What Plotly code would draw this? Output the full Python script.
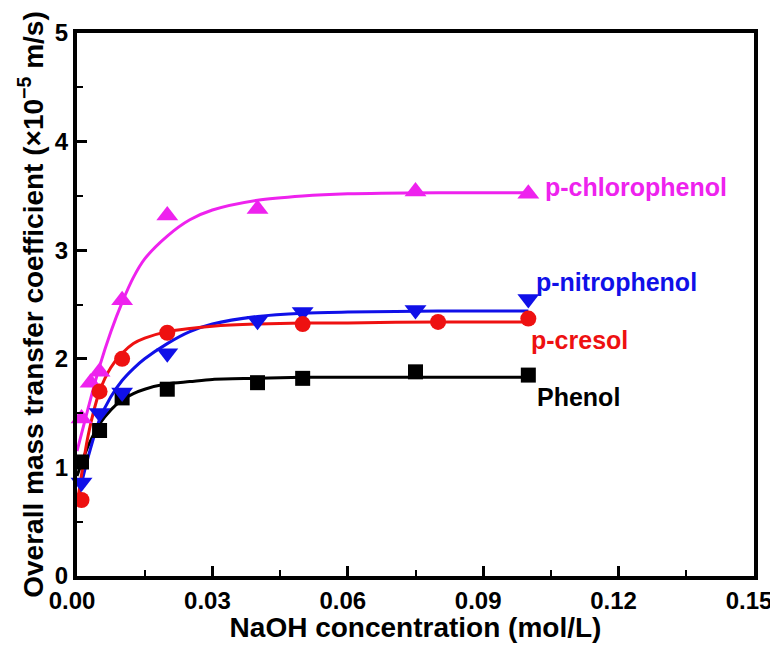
import plotly.graph_objects as go

# ---- measured points ----
phenol_x = [0.001, 0.005, 0.01, 0.02, 0.04, 0.05, 0.075, 0.1]
phenol_y = [1.05, 1.34, 1.64, 1.72, 1.78, 1.82, 1.88, 1.85]

cresol_x = [0.001, 0.005, 0.01, 0.02, 0.05, 0.08, 0.1]
cresol_y = [0.70, 1.70, 2.00, 2.24, 2.32, 2.34, 2.37]

nitro_x = [0.001, 0.005, 0.01, 0.02, 0.04, 0.05, 0.075, 0.1]
nitro_y = [0.86, 1.50, 1.69, 2.05, 2.35, 2.43, 2.45, 2.55]

chloro_x = [0.001, 0.003, 0.005, 0.01, 0.02, 0.04, 0.075, 0.1]
chloro_y = [1.45, 1.78, 1.88, 2.54, 3.32, 3.38, 3.54, 3.52]

# ---- fitted curves ----
fit_x = [0.0, 0.0025, 0.005, 0.0075, 0.01, 0.0125, 0.015, 0.02, 0.025, 0.03,
         0.04, 0.05, 0.06, 0.08, 0.1]
phenol_fit = [0.92, 1.20, 1.40, 1.53, 1.62, 1.68, 1.72, 1.77, 1.79, 1.81,
              1.82, 1.83, 1.83, 1.83, 1.83]
cresol_fit = [0.65, 1.30, 1.70, 1.92, 2.05, 2.14, 2.19, 2.25, 2.28, 2.30,
              2.32, 2.33, 2.33, 2.34, 2.34]
nitro_fit = [0.68, 1.10, 1.44, 1.65, 1.80, 1.91, 2.00, 2.14, 2.25, 2.32,
             2.39, 2.42, 2.43, 2.44, 2.44]
chloro_fit = [1.15, 1.55, 1.93, 2.25, 2.52, 2.75, 2.92, 3.13, 3.28, 3.37,
              3.46, 3.50, 3.52, 3.53, 3.53]

x_ticks = [0.0, 0.03, 0.06, 0.09, 0.12, 0.15]
x_tick_labels = ["0.00", "0.03", "0.06", "0.09", "0.12", "0.15"]
y_ticks = [0, 1, 2, 3, 4, 5]

BLACK = "#000000"
RED = "#ee1111"
BLUE = "#1010e8"
MAGENTA = "#ee22ee"
FONT = "Liberation Sans, Arial, sans-serif"

fig = go.Figure()

series = [
    ("Phenol", phenol_x, phenol_y, phenol_fit, BLACK, "square", 15),
    ("p-chlorophenol", chloro_x, chloro_y, chloro_fit, MAGENTA, "triangle-up", 19),
    ("p-nitrophenol", nitro_x, nitro_y, nitro_fit, BLUE, "triangle-down", 19),
    ("p-cresol", cresol_x, cresol_y, cresol_fit, RED, "circle", 16),
]

for name, xs, ys, fit, col, sym, sz in series:
    fig.add_trace(go.Scatter(x=fit_x, y=fit, mode="lines",
                             line=dict(color=col, width=3, shape="spline", smoothing=0.8),
                             showlegend=False, hoverinfo="skip"))
for name, xs, ys, fit, col, sym, sz in series:
    fig.add_trace(go.Scatter(x=xs, y=ys, mode="markers", name=name,
                             marker=dict(symbol=sym, size=sz, color=col, line=dict(width=0)),
                             showlegend=False, cliponaxis=False))

labels = [
    ("p-chlorophenol", 0.1033, 3.58, MAGENTA),
    ("p-nitrophenol", 0.1013, 2.71, BLUE),
    ("p-cresol", 0.1002, 2.17, RED),
    ("Phenol", 0.1015, 1.65, BLACK),
]
for txt, lx, ly, col in labels:
    fig.add_annotation(x=lx, y=ly, text=txt, showarrow=False, xanchor="left",
                       yanchor="middle",
                       font=dict(family=FONT, size=25, color=col, weight="bold"))

axis_common = dict(
    showline=True, linecolor="black", linewidth=4, mirror=True,
    ticks="inside", tickcolor="black", tickwidth=3, ticklen=10,
    showgrid=False, zeroline=False, automargin=False,
    tickfont=dict(family=FONT, size=24, color="black", weight="bold"),
)

fig.update_xaxes(range=[0, 0.15], tickvals=x_ticks, ticktext=x_tick_labels,
                 ticklabeloverflow="allow", ticklabelshift=-5,
                 minor=dict(ticks="inside", ticklen=6, tickwidth=2, tickcolor="black",
                            dtick=0.015, tick0=0, showgrid=False),
                 title=dict(text="NaOH concentration (mol/L)", standoff=5,
                            font=dict(family=FONT, size=28, color="black", weight="bold")),
                 **axis_common)
fig.update_yaxes(range=[0, 5], tickvals=y_ticks,
                 minor=dict(ticks="inside", ticklen=6, tickwidth=2, tickcolor="black",
                            dtick=0.5, tick0=0, showgrid=False),
                 title=dict(text="Overall mass transfer coefficient (×10<sup>−5</sup> m/s)",
                            standoff=4,
                            font=dict(family=FONT, size=28, color="black", weight="bold")),
                 **axis_common)

# the page body has an 8px default margin; keep the page from overflowing the window
# and shift the plot so it lands where the reference has it
fig.update_layout(
    width=770, height=635,
    margin=dict(l=69, r=24, t=25, b=67),
    paper_bgcolor="white", plot_bgcolor="white",
    showlegend=False,
)

fig.write_html("out.html")
